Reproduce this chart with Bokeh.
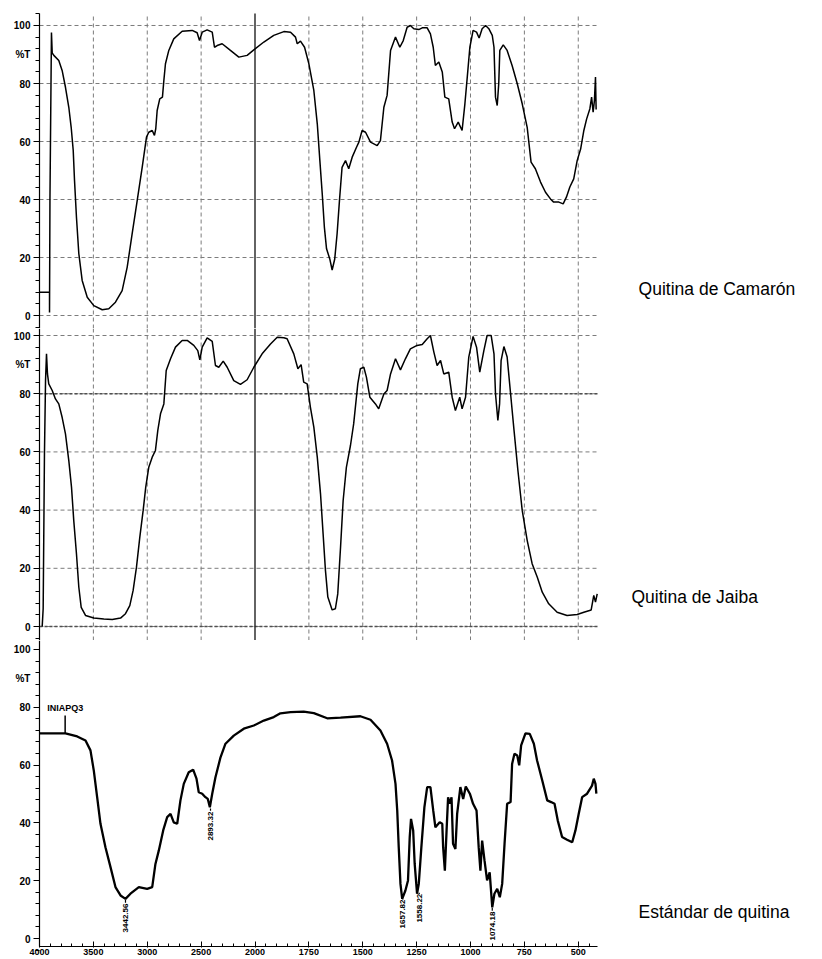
import numpy as np
from bokeh.plotting import figure
from bokeh.models import FixedTicker, Range1d, LinearAxis
from bokeh.layouts import column
from bokeh.embed import file_html
from bokeh.resources import INLINE
from bokeh.core.properties import value

# ---------------- data ----------------
tick_wavenumbers = [4000, 3500, 3000, 2500, 2000, 1750, 1500, 1250, 1000, 750, 500]
tick_labels = ["4000", "3500", "3000", "2500", "2000", "1750", "1500", "1250", "1000", "750", "500"]
y_ticks = [0, 20, 40, 60, 80, 100]

camaron_w = [4000, 3907, 3907, 3903, 3889, 3882, 3867, 3821, 3790, 3759,
             3728, 3706, 3687, 3675, 3657, 3635, 3604, 3557, 3496, 3418,
             3357, 3295, 3233, 3186, 3140, 3093, 3047, 3007, 2986, 2954,
             2933, 2921, 2908, 2884, 2859, 2846, 2831, 2800, 2754, 2676,
             2583, 2537, 2515, 2490, 2444, 2397, 2376, 2351, 2305, 2228,
             2150, 2073, 2011, 1959, 1913, 1866, 1835, 1812, 1804, 1789,
             1770, 1750, 1727, 1711, 1699, 1688, 1678, 1668, 1653, 1642,
             1630, 1619, 1608, 1596, 1580, 1565, 1549, 1529, 1518, 1503,
             1487, 1464, 1433, 1418, 1402, 1387, 1371, 1348, 1328, 1312,
             1294, 1279, 1263, 1240, 1224, 1201, 1186, 1173, 1163, 1147,
             1131, 1119, 1101, 1085, 1074, 1057, 1039, 1026, 1015, 1003,
             988, 972, 960, 946, 930, 915, 899, 891, 884, 876,
             869, 864, 848, 830, 807, 783, 760, 737, 719, 699,
             675, 652, 629, 614, 590, 570, 555, 539, 521, 505,
             489, 474, 461, 446, 438, 431, 425, 420, 417]
camaron_t = [8, 8, 1, 40, 97.6, 90.5, 89.7, 87.9, 84.5, 78.7,
             71.8, 64.9, 56.9, 46.6, 33.9, 21.3, 12.1, 6.3, 3.4, 2.0,
             2.3, 4.6, 8.6, 16.7, 28.2, 39.7, 51.1, 61.5, 63.2, 63.8,
             62.1, 64.4, 70.7, 74.7, 75.3, 81.0, 86.8, 91.4, 95.4, 98.0,
             98.3, 97.5, 94.8, 97.7, 98.5, 97.7, 92.5, 93.1, 93.7, 91.4,
             89.1, 89.7, 91.6, 94.3, 96.6, 97.9, 97.7, 96.0, 93.7, 94.6,
             92.5, 86.8, 77.6, 66.1, 53.4, 42.0, 30.4, 23.0, 19.5, 15.7,
             19.5, 28.2, 39.7, 51.1, 53.4, 50.6, 54.6, 58.0, 59.8, 63.8,
             63.2, 59.8, 58.6, 60.3, 71.8, 75.9, 91.4, 96.0, 92.5, 94.8,
             99.4, 100, 98.9, 98.6, 99.2, 99.2, 97.1, 92.5, 86.2, 87.4,
             84.0, 75.3, 74.7, 66.7, 64.4, 66.7, 63.8, 73.0, 82.2, 92.5,
             98.3, 97.7, 95.7, 98.9, 100, 98.9, 96.6, 92.5, 75.3, 72.4,
             79.9, 91.4, 93.3, 91.4, 86.2, 79.9, 73.0, 64.9, 52.9, 50.6,
             46.0, 42.5, 40.2, 39.1, 39.1, 38.5, 40.8, 44.3, 47.1, 53.4,
             57.4, 63.8, 67.8, 71.3, 75.3, 70.1, 74.1, 82.2, 71]

jaiba_w = [3975, 3966, 3954, 3944, 3935, 3926, 3914, 3882, 3852, 3821,
           3790, 3759, 3728, 3703, 3682, 3657, 3635, 3613, 3573, 3496,
           3403, 3325, 3248, 3202, 3162, 3131, 3100, 3069, 3038, 3014,
           2986, 2954, 2924, 2902, 2877, 2846, 2824, 2784, 2738, 2676,
           2629, 2568, 2531, 2512, 2490, 2444, 2397, 2367, 2336, 2295,
           2258, 2197, 2135, 2073, 2011, 1967, 1928, 1897, 1866, 1851,
           1820, 1801, 1786, 1774, 1758, 1743, 1727, 1711, 1696, 1684,
           1673, 1662, 1642, 1627, 1616, 1603, 1591, 1576, 1557, 1542,
           1523, 1511, 1495, 1483, 1467, 1441, 1426, 1402, 1387, 1371,
           1348, 1325, 1302, 1279, 1248, 1224, 1201, 1186, 1170, 1155,
           1139, 1124, 1101, 1085, 1070, 1050, 1039, 1023, 1008, 988,
           972, 957, 938, 923, 904, 891, 884, 873, 865, 858,
           845, 830, 814, 798, 780, 760, 737, 714, 690, 667,
           637, 598, 552, 505, 474, 440, 428, 420, 412]
jaiba_t = [0, 6.1, 59.3, 84.5, 93.7, 86.8, 83.4, 81.1, 78.2, 76.5,
           71.9, 66.2, 57.0, 47.9, 36.4, 25.0, 13.5, 6.6, 3.8, 2.9,
           2.6, 2.4, 2.9, 4.4, 7.2, 12.4, 20.4, 30.7, 39.9, 47.9,
           54.7, 58.2, 60.5, 67.4, 73.1, 76.5, 88.0, 92.0, 96.0, 98.3,
           98.3, 96.6, 94.8, 91.6, 96.0, 99.2, 98.0, 89.7, 89.1, 91.2,
           89.1, 84.5, 83.2, 84.8, 89.1, 93.7, 97.1, 99.4, 99.2, 98.9,
           93.7, 88.6, 90.0, 84.0, 83.4, 75.4, 68.5, 58.2, 45.6, 31.9,
           19.2, 10.1, 5.7, 6.1, 11.2, 27.3, 43.3, 54.7, 62.2, 69.7,
           83.4, 88.6, 89.1, 85.7, 78.8, 76.5, 74.8, 79.9, 81.1, 86.8,
           92.0, 88.2, 92.0, 95.4, 96.6, 96.9, 98.9, 100, 94.3, 89.7,
           91.4, 86.8, 87.4, 78.8, 74.2, 78.8, 74.8, 78.8, 92.6, 99.7,
           96.0, 87.4, 94.8, 100, 100, 93.7, 80.0, 70.8, 76.5, 91.4,
           96.2, 92.6, 80.0, 67.4, 53.6, 39.9, 29.6, 21.6, 16.9, 11.8,
           7.8, 4.9, 3.8, 4.1, 4.9, 5.7, 10.7, 8.4, 11.2]

estandar_w = [4000, 3759, 3650, 3573, 3527, 3496, 3465, 3434, 3388, 3341,
              3295, 3248, 3202, 3156, 3078, 3001, 2954, 2924, 2893, 2852,
              2815, 2784, 2754, 2722, 2692, 2661, 2615, 2574, 2543, 2522,
              2490, 2460, 2438, 2419, 2397, 2367, 2320, 2274, 2197, 2104,
              2011, 1959, 1913, 1882, 1835, 1774, 1727, 1665, 1603, 1511,
              1464, 1418, 1387, 1364, 1348, 1340, 1333, 1325, 1317, 1302,
              1290, 1282, 1276, 1266, 1259, 1248, 1240, 1228, 1214, 1201,
              1186, 1173, 1163, 1143, 1131, 1127, 1119, 1111, 1104, 1096,
              1088, 1081, 1070, 1062, 1047, 1034, 1022, 1003, 988, 972,
              962, 954, 946, 935, 923, 911, 899, 889, 876, 864,
              853, 842, 830, 814, 807, 796, 783, 774, 765, 745,
              725, 706, 691, 667, 644, 626, 610, 595, 575, 552,
              528, 513, 498, 482, 459, 436, 428, 420, 416]
estandar_t = [71.0, 71.0, 69.9, 68.5, 65.1, 58.1, 48.9, 39.7, 31.6, 24.7,
              17.8, 14.9, 13.7, 15.5, 17.8, 17.2, 17.8, 25.8, 30.4, 37.4,
              42.0, 43.1, 40.2, 39.7, 47.8, 53.5, 57.5, 58.4, 55.3, 50.6,
              50.1, 48.9, 48.3, 45.4, 50.1, 55.8, 62.7, 67.4, 70.2, 72.6,
              73.7, 75.4, 76.6, 77.9, 78.3, 78.5, 78.0, 76.2, 76.4, 76.9,
              75.7, 72.0, 67.4, 61.6, 53.5, 44.3, 31.6, 18.9, 13.7, 16.6,
              20.1, 35.1, 41.4, 37.4, 25.8, 15.5, 18.9, 31.6, 45.4, 52.4,
              52.4, 44.3, 38.5, 40.2, 39.7, 31.6, 23.5, 37.4, 48.9, 46.6,
              48.9, 32.8, 31.0, 43.1, 52.4, 48.3, 52.6, 50.1, 46.6, 44.3,
              31.6, 23.5, 33.9, 27.0, 20.1, 22.9, 10.8, 15.5, 17.2, 14.3,
              18.9, 32.8, 46.6, 47.2, 60.4, 63.9, 63.3, 59.9, 66.8, 71.0,
              70.8, 67.4, 61.6, 54.7, 47.8, 47.2, 46.6, 40.8, 35.1, 34.2,
              33.3, 37.4, 43.1, 48.9, 50.1, 52.9, 55.3, 53.5, 50.1]

peak_labels = ["3442.56", "2893.32", "1657.82", "1558.22", "1074.18"]
peak_w = [3202, 2413, 1314, 1238, 899]
peak_text_start = [2.1, 33.9, 3.5, 5.5, -0.7]
peak_t = [13.4, 45.0, 13.5, 15.4, 10.6]

sample_name = "INIAPQ3"
sample_w = 3762
sample_t = [71.0, 77.2]

panel_names = ["Quitina de Camarón", "Quitina de Jaiba", "Estándar de quitina"]
panel_name_u = [2780, 2747, 2780]
panel_name_t = [9.0, 10.3, 9.0]


def to_u(w):
    """Piecewise IR abscissa: 4000-2000 compressed 2x, 2000-400 full scale."""
    w = np.asarray(w, dtype=float)
    return np.where(w >= 2000, (4000 - w) / 2.0, 1000 + (2000 - w))


X_END = 2590
PX_PER_U = 0.2155
W = 806
X_START = -39 / PX_PER_U
FONT = "Liberation Sans"
GRID = "#7c7c7c"

tick_u = [int(v) for v in to_u(tick_wavenumbers)]
minor_u = list(range(0, 2600, 50))


def make_panel(height, y0, y1, axis_lo, axis_hi):
    p = figure(width=W, height=height, output_backend="svg", toolbar_location=None,
               x_range=Range1d(X_START, X_START + W / PX_PER_U), y_range=Range1d(y0, y1),
               x_axis_location=None,
               min_border_left=0, min_border_right=0, min_border_top=0, min_border_bottom=0)
    p.outline_line_color = None
    p.background_fill_color = "white"
    p.border_fill_color = "white"
    ax = p.yaxis[0]
    ax.fixed_location = 0
    ax.bounds = (axis_lo, axis_hi)
    ax.ticker = FixedTicker(ticks=y_ticks, minor_ticks=list(range(-4, 105, 4)))
    ax.axis_line_color = "black"
    ax.axis_line_width = 1.2
    ax.major_tick_out = 6
    ax.major_tick_in = 0
    ax.minor_tick_out = 4
    ax.minor_tick_in = 0
    ax.major_tick_line_color = "black"
    ax.minor_tick_line_color = "black"
    ax.major_label_text_font = FONT
    ax.major_label_text_font_style = "bold"
    ax.major_label_text_font_size = "10px"
    ax.major_label_standoff = 3
    ax.major_label_text_color = "black"
    p.xgrid.grid_line_color = None
    p.ygrid.grid_line_color = None
    p.text(x=[-42], y=[90], text=["%T"], text_align="right", text_baseline="middle",
           text_font=value(FONT), text_font_style="bold", text_font_size="10px",
           text_color="black")
    return p


def add_grid(p, y_lo, y_hi, dark_lines=()):
    vticks = [u for u in tick_u if u not in (0, 1000)]
    p.segment(x0=vticks, y0=[y_lo] * len(vticks), x1=vticks, y1=[y_hi] * len(vticks),
              line_color=GRID, line_dash="4 3", line_width=1)
    p.segment(x0=[0] * len(y_ticks), y0=y_ticks, x1=[X_END] * len(y_ticks), y1=y_ticks,
              line_color=GRID, line_dash="4 3", line_width=1)
    if dark_lines:
        p.segment(x0=[0] * len(dark_lines), y0=list(dark_lines), x1=[X_END] * len(dark_lines),
                  y1=list(dark_lines), line_color="#505050", line_dash="3 2", line_width=1.6)
    p.segment(x0=[1000], y0=[y_lo], x1=[1000], y1=[y_hi], line_color="#222222", line_width=1.4)


def add_name(p, i):
    p.text(x=[panel_name_u[i]], y=[panel_name_t[i]], text=[panel_names[i]],
           text_baseline="middle", text_align="left", text_font=value(FONT),
           text_font_size="17.5px", text_color="black")


# ---------------- top: camaron (page rows 0-328) ----------------
p1 = make_panel(328, -4.48, 108.62, -4.48, 104.1)
add_grid(p1, -4.48, 104.1)
p1.line(to_u(camaron_w), camaron_t, line_color="black", line_width=1.5)
add_name(p1, 0)

# ---------------- middle: jaiba (page rows 328-640) ----------------
p2 = make_panel(312, -4.81, 102.41, -4.81, 102.41)
add_grid(p2, -4.81, 102.41, dark_lines=(80, 0))
p2.line(to_u(jaiba_w), jaiba_t, line_color="black", line_width=1.5)
add_name(p2, 1)

# ---------------- bottom: estandar (page rows 640-957) ----------------
B_LO, B_HI, B_AXIS = -6.57, 103.11, -2.77
p3 = make_panel(317, B_LO, B_HI, B_AXIS, B_HI)
xa = LinearAxis(fixed_location=B_AXIS, bounds=(0, X_END))
p3.add_layout(xa, "below")
xa.ticker = FixedTicker(ticks=tick_u, minor_ticks=minor_u)
xa.major_label_overrides = {u: lab for u, lab in zip(tick_u, tick_labels)}
xa.axis_line_color = "black"
xa.axis_line_width = 1.2
xa.major_tick_in = 5
xa.major_tick_out = 1
xa.minor_tick_in = 3
xa.minor_tick_out = 0
xa.major_tick_line_color = "black"
xa.minor_tick_line_color = "black"
xa.major_label_text_font = FONT
xa.major_label_text_font_style = "bold"
xa.major_label_text_font_size = "9px"
xa.major_label_standoff = 1
xa.major_label_text_color = "black"

p3.line(to_u(estandar_w), estandar_t, line_color="black", line_width=2.3)
su = float(to_u([sample_w])[0])
p3.segment(x0=[su], y0=[sample_t[0]], x1=[su], y1=[sample_t[1]], line_color="black", line_width=1.5)
p3.text(x=[su], y=[sample_t[1] + 0.8], text=[sample_name], text_align="center",
        text_baseline="bottom", text_font=value(FONT), text_font_style="bold",
        text_font_size="9px", text_color="black")
pu = to_u(peak_w)
p3.text(x=pu, y=peak_text_start, text=peak_labels, angle=np.pi / 2, text_align="left",
        text_baseline="middle", text_font=value(FONT), text_font_style="bold",
        text_font_size="8px", text_color="black")
p3.segment(x0=pu, y0=[s + 10.3 for s in peak_text_start], x1=pu, y1=peak_t,
           line_color="black", line_width=1.2)
add_name(p3, 2)

layout = column(p1, p2, p3, spacing=0)
open("out.html", "w").write(file_html(layout, INLINE))
